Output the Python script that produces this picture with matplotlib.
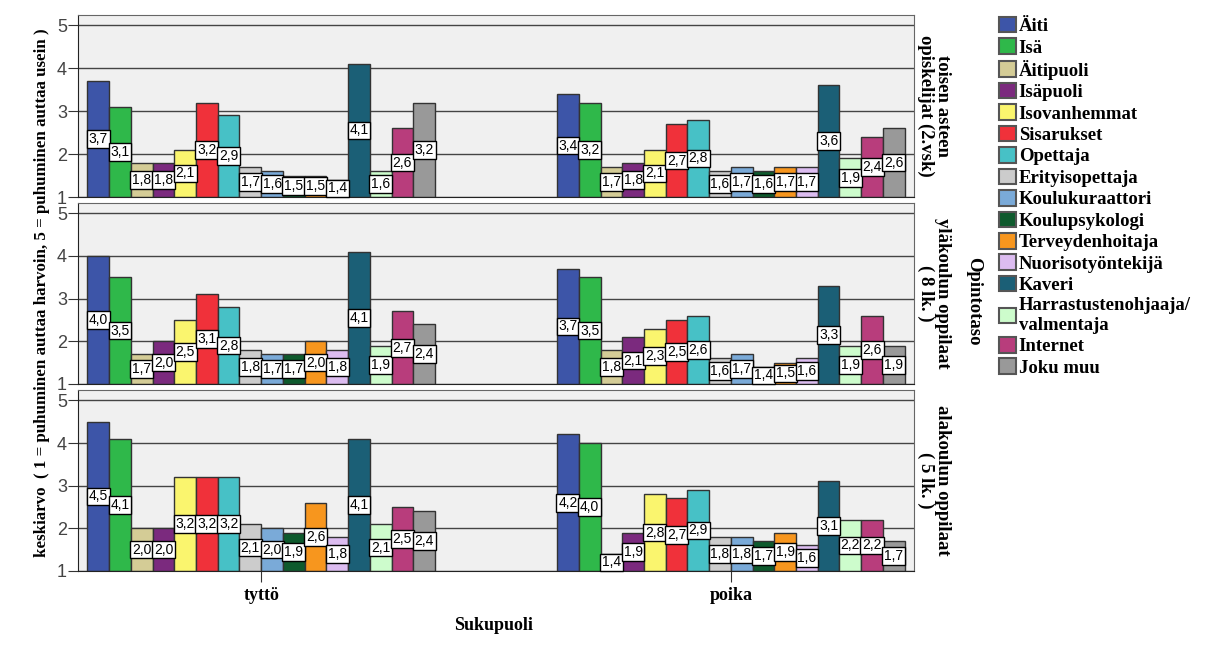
import numpy as np
import matplotlib
matplotlib.use("Agg")
import matplotlib.pyplot as plt

# Luokat ja värit
categories = ["Äiti", "Isä", "Äitipuoli", "Isäpuoli", "Isovanhemmat", "Sisarukset",
              "Opettaja", "Erityisopettaja", "Koulukuraattori", "Koulupsykologi",
              "Terveydenhoitaja", "Nuorisotyöntekijä", "Kaveri",
              "Harrastustenohjaaja/\nvalmentaja", "Internet", "Joku muu"]
colors = ["#3d55a8", "#2fb84a", "#d4cc96", "#7b2a7e", "#faf56e", "#f0313a",
          "#47c1c6", "#cccccc", "#7aaad8", "#0e5a2d", "#f7961e", "#dcbcf0",
          "#1b5f76", "#cdfccc", "#b83d7c", "#999999"]
genders = ["tyttö", "poika"]
levels = ["toisen asteen\nopiskelijat (2.vsk)", "yläkoulun oppilaat\n( 8 lk. )",
          "alakoulun oppilaat\n( 5 lk. )"]

# keskiarvot: taso x sukupuoli
toinen_tytto = [3.7, 3.1, 1.8, 1.8, 2.1, 3.2, 2.9, 1.7, 1.6, 1.5, 1.5, 1.4, 4.1, 1.6, 2.6, 3.2]
toinen_poika = [3.4, 3.2, 1.7, 1.8, 2.1, 2.7, 2.8, 1.6, 1.7, 1.6, 1.7, 1.7, 3.6, 1.9, 2.4, 2.6]
yla_tytto = [4.0, 3.5, 1.7, 2.0, 2.5, 3.1, 2.8, 1.8, 1.7, 1.7, 2.0, 1.8, 4.1, 1.9, 2.7, 2.4]
yla_poika = [3.7, 3.5, 1.8, 2.1, 2.3, 2.5, 2.6, 1.6, 1.7, 1.4, 1.5, 1.6, 3.3, 1.9, 2.6, 1.9]
ala_tytto = [4.5, 4.1, 2.0, 2.0, 3.2, 3.2, 3.2, 2.1, 2.0, 1.9, 2.6, 1.8, 4.1, 2.1, 2.5, 2.4]
ala_poika = [4.2, 4.0, 1.4, 1.9, 2.8, 2.7, 2.9, 1.8, 1.8, 1.7, 1.9, 1.6, 3.1, 2.2, 2.2, 1.7]

data = [(toinen_tytto, toinen_poika), (yla_tytto, yla_poika), (ala_tytto, ala_poika)]

serif = "Liberation Serif"
fig = plt.figure(figsize=(12.31, 6.47), dpi=100)

# paneelien paikat (bottom, height)
left, width = 0.0634, 0.6791
panels = [(0.6955, 0.2813), (0.4065, 0.2797), (0.1175, 0.2795)]

n = len(categories)
group_w = 0.74
bw = group_w / n
x = np.arange(len(genders))
handles = []

for p, (bottom, height) in enumerate(panels):
    ax = fig.add_axes([left, bottom, width, height])
    ax.set_facecolor("#f0f0f0")
    ax.set_axisbelow(True)
    ax.yaxis.grid(True, color="#444444", linewidth=1)
    tytto, poika = data[p]
    for i in range(n):
        xs = x + (i - (n - 1) / 2) * bw
        vals = np.array([tytto[i], poika[i]])
        b = ax.bar(xs, vals - 1, bw, bottom=1, color=colors[i], edgecolor="#333333",
                   linewidth=1, label=categories[i])
        if p == 0:
            handles.append(b)
        for xx, v in zip(xs, vals):
            ax.text(xx, (1 + v) / 2, f"{v:.1f}".replace(".", ","), ha="center", va="center",
                    fontsize=10, family="Liberation Sans", clip_on=False,
                    bbox=dict(boxstyle="square,pad=0.13", fc="white", ec="black", lw=1))
    ax.set_xlim(-0.39, 1.39)
    ax.set_ylim(1, 5.24)
    ax.set_yticks([1, 2, 3, 4, 5])
    ax.tick_params(axis="y", direction="out", length=7, pad=1, labelsize=13,
                   color="#333333", labelcolor="#444444")
    for lab in ax.get_yticklabels():
        lab.set_family("Liberation Sans")
    for s in ["top", "right"]:
        ax.spines[s].set_color("#666666")
    for s in ["left", "bottom"]:
        ax.spines[s].set_color("#222222")
    if p == 2:
        ax.set_xticks(x)
        ax.set_xticklabels(genders, fontsize=13, fontweight="bold", family=serif)
        ax.tick_params(axis="x", direction="out", length=8, color="#333333")
    else:
        ax.set_xticks([])
    ax.text(1.024, 0.5, levels[p], transform=ax.transAxes, rotation=270, ha="center",
            va="center", fontsize=13.5, fontweight="bold", family=serif, linespacing=1.0)

fig.text(0.034, 0.547, "keskiarvo  ( 1 = puhuminen auttaa harvoin, 5 = puhuminen auttaa usein )",
         rotation=90, ha="center", va="center", fontsize=12.2, fontweight="bold", family=serif)
fig.text(0.401, 0.034, "Sukupuoli", ha="center", va="center", fontsize=13,
         fontweight="bold", family=serif)
fig.text(0.791, 0.535, "Opintotaso", rotation=270, ha="center", va="center",
         fontsize=13.5, fontweight="bold", family=serif)

leg = fig.legend(handles=handles, labels=categories, loc="upper left",
                 bbox_to_anchor=(0.8115, 0.974), frameon=False,
                 prop={"family": serif, "weight": "bold", "size": 13.5},
                 handlelength=0.9, handleheight=0.9, handletextpad=0.15,
                 labelspacing=0.17, borderaxespad=0, borderpad=0)
for h in leg.legend_handles:
    h.set_edgecolor("#555555")
    h.set_linewidth(1.5)

plt.savefig("out.png", dpi=100)
